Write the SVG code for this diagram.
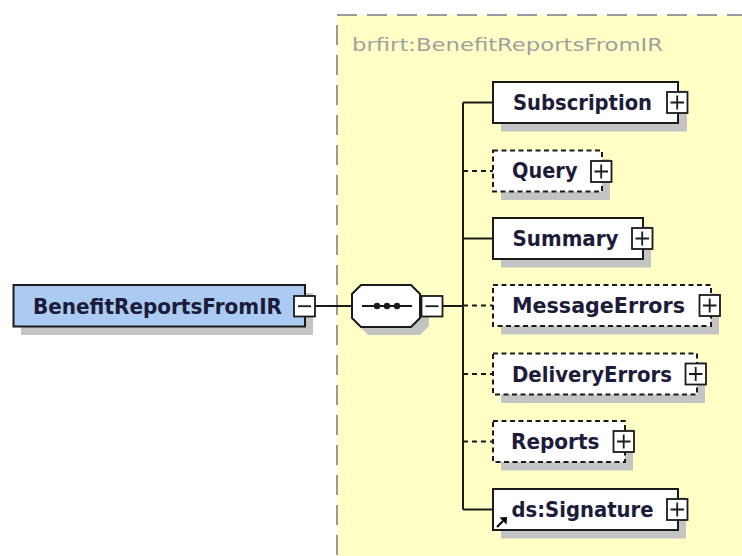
<svg xmlns="http://www.w3.org/2000/svg" width="742" height="556" viewBox="0 0 742 556">
<style>
.shadow{fill:#c4c4c4;stroke:none}
.box{fill:#ffffff;stroke:#1a1a1a;stroke-width:2}
.opt{stroke-dasharray:5 3.5}
.root{fill:#abcbf3;stroke:#1a1a1a;stroke-width:2}
.lbl{font-family:"DejaVu Sans",Verdana,sans-serif;font-weight:bold;font-size:20.5px;fill:#1c1c3a}
.title{font-family:"DejaVu Sans",Verdana,sans-serif;font-size:18px;fill:#a0a0a0}
.btn{fill:#ffffff;stroke:#1a1a1a;stroke-width:1.8}
.sign{stroke:#1a1a1a;stroke-width:1.8;fill:none}
.con{stroke:#1a1a1a;stroke-width:2;fill:none}
.dcon{stroke:#1a1a1a;stroke-width:2;fill:none;stroke-dasharray:5 4}
</style>
<rect x="0" y="0" width="742" height="556" fill="#ffffff"/>
<g id="group-brfirt">
<rect x="337" y="15" width="430" height="560" fill="#ffffc6" stroke="#9a9a9a" stroke-width="2" stroke-dasharray="20 10"/>
<text class="title" x="352" y="50.5" textLength="311" lengthAdjust="spacingAndGlyphs">brfirt:BenefitReportsFromIR</text>
</g>
<g id="connectors">
<line class="con" x1="315" y1="306" x2="352" y2="306"/>
<line class="con" x1="442" y1="306" x2="463" y2="306"/>
<line class="con" x1="463" y1="102.5" x2="463" y2="509.5"/>
<line class="con" x1="463" y1="102.5" x2="493" y2="102.5"/>
<line class="dcon" x1="463" y1="171" x2="493" y2="171"/>
<line class="con" x1="463" y1="238.5" x2="493" y2="238.5"/>
<line class="dcon" x1="463" y1="305.5" x2="493" y2="305.5"/>
<line class="dcon" x1="463" y1="374" x2="493" y2="374"/>
<line class="dcon" x1="463" y1="441.5" x2="493" y2="441.5"/>
<line class="con" x1="463" y1="509.5" x2="493" y2="509.5"/>
</g>
<g id="node-root">
<rect class="shadow" x="21" y="293" width="292" height="42"/>
<rect class="root" x="13.5" y="285" width="291.5" height="41.5"/>
<text class="lbl" x="33" y="313.5" textLength="249" lengthAdjust="spacingAndGlyphs">BenefitReportsFromIR</text>
<rect class="btn" x="294" y="296" width="21" height="20.5"/>
<line class="sign" x1="298" y1="306.2" x2="311" y2="306.2"/>
</g>
<g id="node-sequence">
<polygon class="shadow" points="368,293 420,293 429,302 429,326 420,335 368,335 359,326 359,302"/>
<polygon class="box" points="361,285 411,285 420,294 420,318 411,327 361,327 352,318 352,294"/>
<line class="sign" x1="362" y1="306" x2="412" y2="306"/>
<circle cx="377" cy="306" r="3.2" fill="#1a1a1a"/>
<circle cx="387" cy="306" r="3.2" fill="#1a1a1a"/>
<circle cx="397" cy="306" r="3.2" fill="#1a1a1a"/>
<rect class="btn" x="421.5" y="296" width="21" height="20.5"/>
<line class="sign" x1="425.5" y1="306.2" x2="438.5" y2="306.2"/>
</g>
<g id="node-subscription">
<rect class="shadow" x="501" y="90.5" width="186" height="41"/>
<rect class="box" x="493" y="82" width="185" height="41"/>
<text class="lbl" x="513" y="110" textLength="139" lengthAdjust="spacingAndGlyphs">Subscription</text>
<rect class="btn" x="667" y="92" width="20.5" height="21"/>
<path class="sign" d="M670.5,102.5H684M677.2,95.5V109.5"/>
</g>
<g id="node-query">
<rect class="shadow" x="501" y="159" width="109" height="41"/>
<rect class="box opt" x="493" y="150.5" width="109" height="41"/>
<text class="lbl" x="512" y="178" textLength="65.5" lengthAdjust="spacingAndGlyphs">Query</text>
<rect class="btn" x="591" y="161" width="20.5" height="21"/>
<path class="sign" d="M594.5,171.5H608M601.2,164.5V178.5"/>
</g>
<g id="node-summary">
<rect class="shadow" x="501" y="226.5" width="150" height="41"/>
<rect class="box" x="493" y="218" width="150" height="41"/>
<text class="lbl" x="512.5" y="246" textLength="106" lengthAdjust="spacingAndGlyphs">Summary</text>
<rect class="btn" x="632" y="228" width="20.5" height="21"/>
<path class="sign" d="M635.5,238.5H649M642.2,231.5V245.5"/>
</g>
<g id="node-messageerrors">
<rect class="shadow" x="501" y="293.5" width="218" height="41"/>
<rect class="box opt" x="493" y="285" width="218" height="41"/>
<text class="lbl" x="512" y="313" textLength="173" lengthAdjust="spacingAndGlyphs">MessageErrors</text>
<rect class="btn" x="699.5" y="295" width="20.5" height="21"/>
<path class="sign" d="M703,305.5H716.5M709.7,298.5V312.5"/>
</g>
<g id="node-deliveryerrors">
<rect class="shadow" x="501" y="362" width="204" height="41"/>
<rect class="box opt" x="493" y="353.5" width="204" height="41"/>
<text class="lbl" x="512" y="381.5" textLength="160" lengthAdjust="spacingAndGlyphs">DeliveryErrors</text>
<rect class="btn" x="685.5" y="363.5" width="20.5" height="21"/>
<path class="sign" d="M689,374H702.5M695.7,367V381"/>
</g>
<g id="node-reports">
<rect class="shadow" x="501" y="429.5" width="132" height="41"/>
<rect class="box opt" x="493" y="421" width="132" height="41"/>
<text class="lbl" x="511" y="449" textLength="88.5" lengthAdjust="spacingAndGlyphs">Reports</text>
<rect class="btn" x="613.5" y="431" width="20.5" height="21"/>
<path class="sign" d="M617,441.5H630.5M623.7,434.5V448.5"/>
</g>
<g id="node-signature">
<rect class="shadow" x="501" y="497.5" width="185" height="41"/>
<rect class="box" x="493" y="489" width="185" height="41"/>
<text class="lbl" x="511.5" y="517" textLength="142" lengthAdjust="spacingAndGlyphs">ds:Signature</text>
<rect class="btn" x="667" y="499" width="20.5" height="21"/>
<path class="sign" d="M670.5,509.5H684M677.2,502.5V516.5"/>
<line x1="497" y1="527" x2="503" y2="521" stroke="#000" stroke-width="2"/>
<polygon points="507,517 506.5,524.5 499.5,517.5" fill="#000"/>
</g>
</svg>
